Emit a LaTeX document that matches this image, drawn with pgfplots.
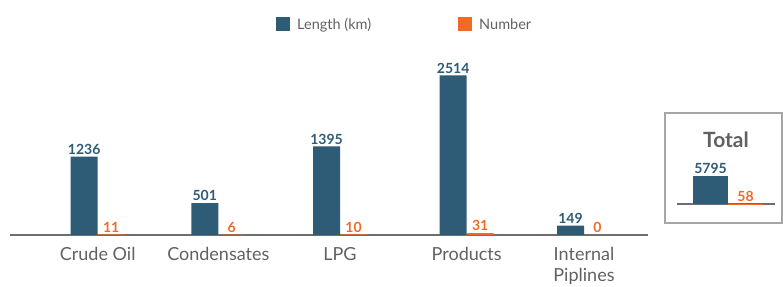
\documentclass[border=0pt]{standalone}
\usepackage{pgfplots}
\pgfplotsset{compat=1.18}
\usepackage{fontspec}
\setmainfont{Lato}
\definecolor{cblue}{HTML}{2E5B75}
\definecolor{corange}{HTML}{F26A26}
\definecolor{cgray}{HTML}{616161}
\definecolor{caxis}{HTML}{6E6E6E}
\pgfplotsset{/pgf/number format/.cd, 1000 sep={}, assume math mode=true}
\begin{document}
\begin{tikzpicture}
\useasboundingbox (0,0) rectangle (783pt,286pt);
\begin{axis}[
  at={(10pt,51pt)}, anchor=south west,
  x=1pt, y=0.0635pt,
  xmin=10, xmax=648, ymin=0, ymax=3000,
  ybar=0pt, bar width=27pt,
  clip=false,
  hide y axis,
  axis x line*=bottom,
  x axis line style={draw=caxis, line width=1.8pt},
  xtick={97.7,218.3,340,466.7,584},
  xticklabels={Crude Oil, Condensates, LPG, Products, {Internal\\Piplines}},
  xticklabel style={align=center, font=\fontsize{18}{21}\selectfont, text=cgray, yshift=-9pt},
  major tick length=0pt,
  nodes near coords,
  every node near coord/.append style={font=\bfseries\fontsize{14}{16}\selectfont, inner sep=2pt},
  legend columns=2,
  legend style={at={(0.4123,1.105)}, anchor=west, draw=none, fill=none,
    font=\fontsize{14.5}{17}\selectfont, text=cgray,
    /tikz/every odd column/.append style={column sep=5pt},
    /tikz/every even column/.append style={column sep=85pt}},
  legend image code/.code={\fill[#1] (0pt,-7pt) rectangle (14pt,7pt);},
]
\addplot[fill=cblue, draw=none, every node near coord/.append style={text=cblue}]
  coordinates {(97.7,1236) (218.3,501) (340,1395) (466.7,2514) (584,149)};
\addplot[fill=corange, draw=none, every node near coord/.append style={text=corange}]
  coordinates {(97.7,11) (218.3,6) (340,10) (466.7,31) (584,0)};
\legend{Length (km), Number}
\end{axis}
\begin{axis}[
  at={(677pt,82pt)}, anchor=south west,
  x=35pt, y=0.00483pt,
  xmin=-1.457, xmax=1.343, ymin=0, ymax=15000,
  ybar=0pt, bar width=35pt,
  clip=false,
  hide y axis,
  axis x line*=bottom,
  x axis line style={draw=caxis, line width=1.8pt},
  xtick=\empty,
  major tick length=0pt,
  nodes near coords,
  every node near coord/.append style={font=\bfseries\fontsize{14}{16}\selectfont, inner sep=2pt},
]
\addplot[fill=cblue, draw=none, every node near coord/.append style={text=cblue}]
  coordinates {(0,5795)};
\addplot[fill=corange, draw=none, every node near coord/.append style={text=corange}]
  coordinates {(0,58)};
\end{axis}
\draw[draw=gray!70, line width=1.5pt] (665pt,63pt) rectangle (782pt,173pt);
\node[font=\bfseries\fontsize{21}{24}\selectfont, text=cgray] at (726pt,146pt) {Total};
\end{tikzpicture}
\end{document}
